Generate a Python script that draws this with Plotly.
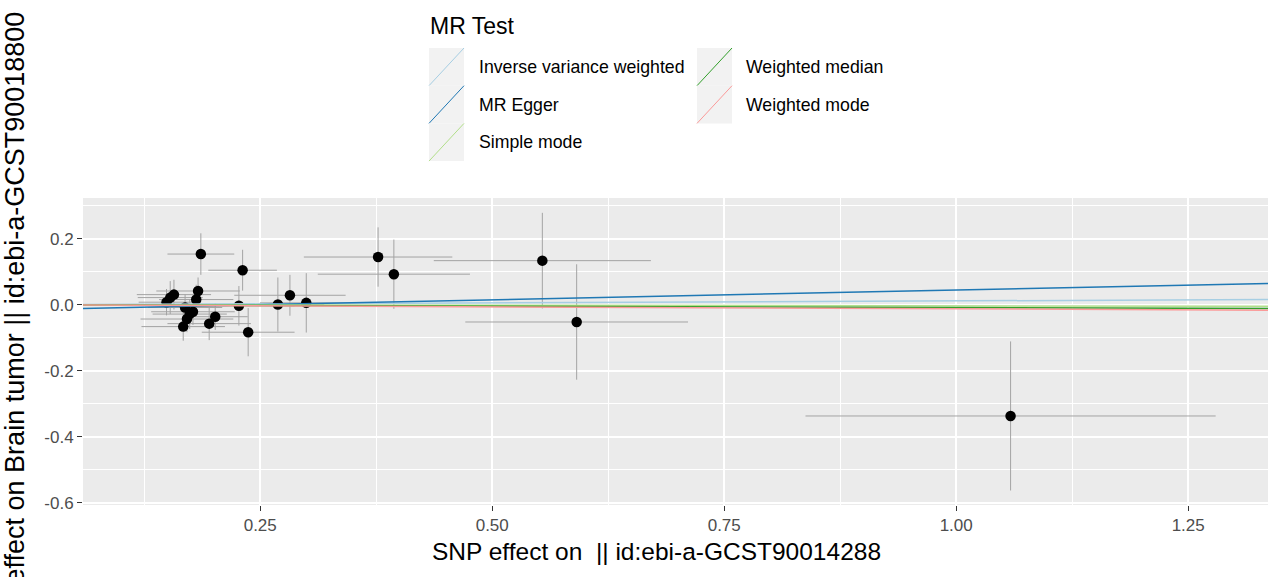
import plotly.graph_objects as go

# ---------------- data ----------------
snp_x = [0.186, 0.231, 0.157, 0.153, 0.149, 0.183, 0.181, 0.169, 0.1775, 0.174, 0.171, 0.167,
         0.2015, 0.195, 0.227, 0.237, 0.269, 0.282, 0.2996, 0.377, 0.394, 0.554, 0.591, 1.0586]
snp_y = [0.154, 0.105, 0.031, 0.022, 0.008, 0.042, 0.016, -0.008, -0.021, -0.028, -0.043, -0.066,
         -0.036, -0.057, -0.003, -0.083, 0.001, 0.029, 0.006, 0.145, 0.093, 0.134, -0.052, -0.337]
se_x = [0.036, 0.037, 0.040, 0.035, 0.030, 0.045, 0.040, 0.040, 0.045, 0.040, 0.050, 0.045,
        0.035, 0.045, 0.060, 0.050, 0.050, 0.060, 0.050, 0.080, 0.082, 0.117, 0.120, 0.221]
se_y = [0.063, 0.062, 0.045, 0.050, 0.040, 0.041, 0.045, 0.040, 0.040, 0.045, 0.040, 0.043,
        0.040, 0.050, 0.060, 0.073, 0.082, 0.062, 0.090, 0.090, 0.105, 0.145, 0.175, 0.226]

methods = ["Inverse variance weighted", "MR Egger", "Simple mode", "Weighted median", "Weighted mode"]
intercepts = [0.0, -0.0145, 0.0, 0.0, 0.0]
slopes = [0.012, 0.0595, -0.003, -0.0085, -0.012]
colors = ["#a6cee3", "#1f78b4", "#b2df8a", "#33a02c", "#fb9a99"]

x_tickvals = [0.25, 0.50, 0.75, 1.00, 1.25]
x_ticktext = ["0.25", "0.50", "0.75", "1.00", "1.25"]
y_tickvals = [-0.6, -0.4, -0.2, 0.0, 0.2]
y_ticktext = ["-0.6", "-0.4", "-0.2", "0.0", "0.2"]

x_title = "SNP effect on  || id:ebi-a-GCST90014288"
y_title = "SNP effect on Brain tumor || id:ebi-a-GCST90018800"
legend_title = "MR Test"

# ---------------- layout geometry ----------------
W, H = 1274, 577
L, R, T, B = 83, 6, 198, 72
x_range = [0.059, 1.336]
y_range = [-0.607, 0.324]
FONT = "Liberation Sans, Arial, sans-serif"


def px(x):
    return (x - L) / (W - L - R)


def py(y):
    return (H - B - y) / (H - T - B)


fig = go.Figure()

fig.add_trace(go.Scatter(
    x=snp_x, y=snp_y, mode="markers",
    marker=dict(color="black", size=10.5),
    error_x=dict(type="data", array=se_x, color="#a3a3a3", thickness=1, width=0),
    error_y=dict(type="data", array=se_y, color="#a3a3a3", thickness=1, width=0),
    showlegend=False, hoverinfo="skip",
))

for m, a, b, c in zip(methods, intercepts, slopes, colors):
    xs = [x_range[0], x_range[1]]
    ys = [a + b * xv for xv in xs]
    fig.add_trace(go.Scatter(x=xs, y=ys, mode="lines", name=m,
                             line=dict(color=c, width=1.5), showlegend=False))

# ---------------- manual ggplot-style legend ----------------
shapes = []
annotations = []
annotations.append(dict(text=legend_title, x=px(428), y=py(26), xref="paper", yref="paper",
                        xanchor="left", yanchor="middle", showarrow=False,
                        font=dict(family=FONT, size=23, color="black")))
key_w, key_h = 35, 37.7
col_x = [429, 697]
text_x = [477, 744]
row_top = [48, 48 + key_h, 48 + 2 * key_h]
pos = [(0, 0), (0, 1), (0, 2), (1, 0), (1, 1)]
for (ci, ri), m, c in zip(pos, methods, colors):
    x0, y0 = col_x[ci], row_top[ri]
    x1, y1 = x0 + key_w, y0 + key_h
    shapes.append(dict(type="rect", xref="paper", yref="paper", x0=px(x0), x1=px(x1),
                       y0=py(y1), y1=py(y0), fillcolor="#f2f2f2", line=dict(width=0), layer="above"))
    shapes.append(dict(type="line", xref="paper", yref="paper", x0=px(x0), x1=px(x1),
                       y0=py(y1), y1=py(y0), line=dict(color=c, width=1), layer="above"))
    annotations.append(dict(text=m, x=px(text_x[ci]), y=py((y0 + y1) / 2), xref="paper", yref="paper",
                            xanchor="left", yanchor="middle", showarrow=False,
                            font=dict(family=FONT, size=17.7, color="black")))

# ---------------- axis titles ----------------
annotations.append(dict(text=x_title, x=px(656), y=py(551), xref="paper", yref="paper",
                        xanchor="center", yanchor="middle", showarrow=False,
                        font=dict(family=FONT, size=24.5, color="black")))
annotations.append(dict(text=y_title, x=px(15), y=py(329), xref="paper", yref="paper",
                        xanchor="center", yanchor="middle", showarrow=False, textangle=-90,
                        font=dict(family=FONT, size=27, color="black")))

fig.update_layout(
    width=W, height=H,
    margin=dict(l=L, r=R, t=T, b=B, pad=0),
    paper_bgcolor="white", plot_bgcolor="#ebebeb",
    font=dict(family=FONT, color="#4d4d4d"),
    shapes=shapes, annotations=annotations,
    showlegend=False,
)
fig.update_xaxes(
    range=x_range, tickvals=x_tickvals, ticktext=x_ticktext,
    showgrid=True, gridcolor="white", gridwidth=1.6, zeroline=False,
    ticks="outside", ticklen=5, tickcolor="#333333", tickwidth=1,
    tickfont=dict(family=FONT, size=17, color="#4d4d4d"),
    minor=dict(dtick=0.125, tick0=0, showgrid=True, gridcolor="white", gridwidth=0.8, ticks=""),
    showline=False, automargin=False,
)
fig.update_yaxes(
    range=y_range, tickvals=y_tickvals, ticktext=y_ticktext,
    showgrid=True, gridcolor="white", gridwidth=1.6, zeroline=False,
    ticks="outside", ticklen=5, tickcolor="#333333", tickwidth=1,
    tickfont=dict(family=FONT, size=17, color="#4d4d4d"),
    minor=dict(dtick=0.1, tick0=0, showgrid=True, gridcolor="white", gridwidth=0.8, ticks=""),
    showline=False, automargin=False,
)

fig.write_html(
    "out.html",
    config={"displayModeBar": False},
    post_script="document.body.style.margin='0px';document.body.style.overflow='hidden';",
)
